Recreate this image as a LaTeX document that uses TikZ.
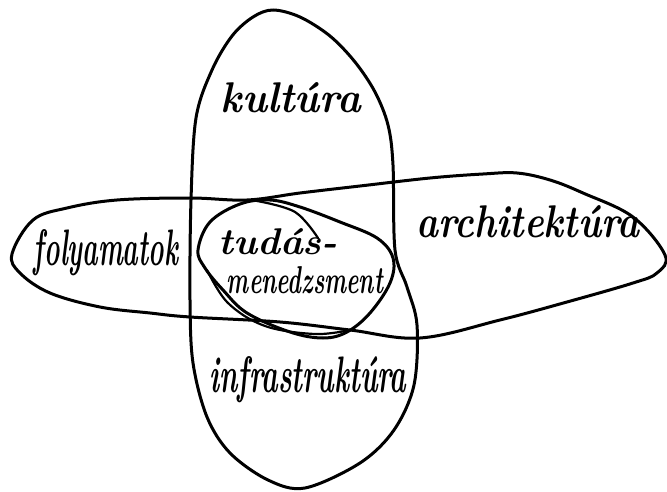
\documentclass[tikz,border=0pt]{standalone}
\usepackage{graphicx}
\begin{document}
\begin{tikzpicture}[x=1pt,y=-1pt,line join=round,line cap=round]
\tikzset{
  stroke/.style={line width=3pt, black},
  thinstroke/.style={line width=2.2pt, black},
  lbl/.style={inner sep=0pt, font=\bfseries\itshape}
}
\useasboundingbox[fill=white] (0,0) rectangle (667,492);
% vertical ellipse (kultura / infrastruktura)
\draw[stroke] plot[smooth cycle, tension=0.55] coordinates {(273,10) (300,17) (330,36) (355,62) (375,92) (388,125) (393,165) (395,250) (407,287) (417,325) (414,385) (394,430) (360,463) (305,488) (268,480) (230,453) (207,417) (193,363) (190,300) (191,200) (196,118) (212,70) (232,36) (253,17)};
% horizontal egg (folyamatok / architektura)
\draw[stroke] plot[smooth cycle, tension=0.6] coordinates {(12,254) (33,220) (67,208) (117,200) (190,198) (247,200) (300,193) (360,186) (430,178) (483,174) (517,173) (550,180) (583,193) (633,217) (665,255) (657,273) (633,283) (567,302) (500,320) (420,338) (350,330) (280,322) (190,317) (150,313) (100,307) (50,293) (20,273)};
% central ellipse (tudas-menedzsment)
\draw[stroke] plot[smooth cycle, tension=0.6] coordinates {(198,250) (210,222) (240,204) (270,200) (300,207) (340,222) (377,238) (393,258) (390,283) (370,313) (347,332) (323,338) (290,332) (247,313) (223,290) (205,268)};
% double strokes of the central ellipse
\draw[thinstroke] plot[smooth, tension=0.6] coordinates {(257,201) (295,212) (318,238)};
\draw[thinstroke] plot[smooth, tension=0.6] coordinates {(207,270) (228,303) (265,326) (315,334) (350,330)};
% labels
\node[lbl] (kultura) at (291,98) {\resizebox{140pt}{30pt}{kultúra}};
\node[lbl] (folyamatok) at (106,253) {\resizebox{144pt}{36pt}{folyamatok}};
\node[lbl] (tudas) at (278,242) {\resizebox{119pt}{26pt}{tudás-}};
\node[lbl] (menedzsment) at (305,280) {\resizebox{156pt}{27pt}{menedzsment}};
\node[lbl] (architektura) at (528,222) {\resizebox{223pt}{32pt}{architektúra}};
\node[lbl] (infrastruktura) at (308,380) {\resizebox{197pt}{36pt}{infrastruktúra}};
\end{tikzpicture}
\end{document}
